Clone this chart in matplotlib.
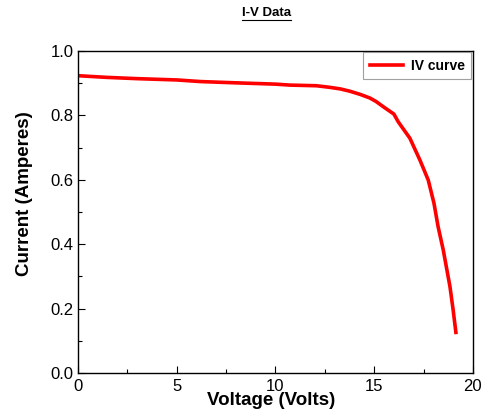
import matplotlib
matplotlib.use("Agg")
import matplotlib.pyplot as plt
from matplotlib.lines import Line2D
from matplotlib.ticker import MultipleLocator

plt.rcParams['font.family'] = ['Liberation Sans', 'DejaVu Sans']

voltage = [0.05, 1.45, 3.0, 5.0, 6.2, 8.0, 10.0, 10.73, 12.08, 12.76, 13.3,
           13.77, 14.3, 14.78, 15.1, 15.46, 16.0, 16.22, 16.81, 17.32, 17.74,
           18.03, 18.24, 18.5, 18.84, 19.0, 19.14]
current = [0.923, 0.918, 0.914, 0.910, 0.905, 0.901, 0.897, 0.894, 0.892, 0.887,
           0.882, 0.875, 0.865, 0.854, 0.843, 0.827, 0.804, 0.780, 0.729, 0.661,
           0.599, 0.527, 0.454, 0.382, 0.268, 0.196, 0.126]

fig = plt.figure(figsize=(4.87, 4.11), dpi=100)
ax = fig.add_axes([0.160, 0.0925, 0.811, 0.7835])

ax.plot(voltage, current, color='#ff0000', lw=2.6, label='IV curve')

ax.set_xlim(0, 20)
ax.set_ylim(0, 1.0)
ax.xaxis.set_major_locator(MultipleLocator(5))
ax.xaxis.set_minor_locator(MultipleLocator(2.5))
ax.yaxis.set_major_locator(MultipleLocator(0.2))
ax.yaxis.set_minor_locator(MultipleLocator(0.1))
ax.tick_params(which='both', direction='in', top=False, right=False, labelsize=12)
ax.tick_params(which='major', length=5, width=0.8)
ax.tick_params(which='minor', length=3, width=0.8)
ax.tick_params(axis='x', pad=4)
ax.tick_params(axis='y', pad=3)
for s in ax.spines.values():
    s.set_linewidth(1.0)

ax.set_xlabel('Voltage (Volts)', fontsize=13.5, fontweight='bold')
ax.set_ylabel('Current (Amperes)', fontsize=13.5, fontweight='bold')
ax.xaxis.set_label_coords(0.489, -0.06)
ax.yaxis.set_label_coords(-0.114, 0.556)

leg = ax.legend(loc='upper right', prop={'weight': 'bold', 'size': 10},
                fancybox=False, edgecolor='#888888', handlelength=2.4,
                borderaxespad=0.1, handletextpad=0.6, borderpad=0.45)
leg.get_frame().set_linewidth(0.8)

t = fig.text(0.548, 0.968, 'I-V Data', ha='center', va='center',
             fontsize=9.5, fontweight='bold')
fig.canvas.draw()
bb = t.get_window_extent()
y0 = bb.y0 - 1
fig.lines.append(Line2D([bb.x0, bb.x1], [y0, y0], transform=None,
                        color='black', lw=0.8))

fig.savefig('out.png', dpi=100)
